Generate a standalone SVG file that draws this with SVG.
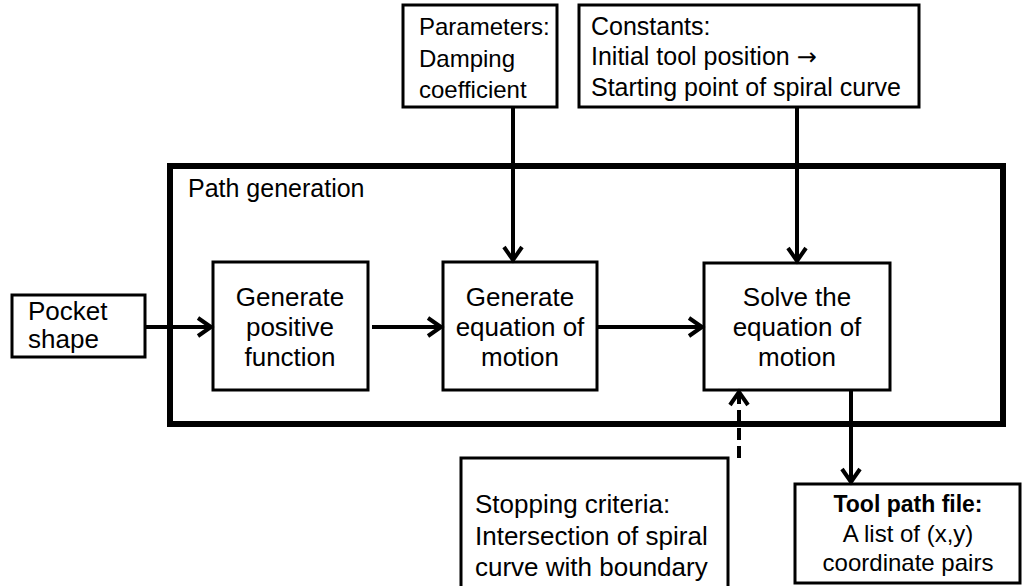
<svg xmlns="http://www.w3.org/2000/svg" width="1026" height="586" viewBox="0 0 1026 586">
<style>
text{font-family:"Liberation Sans",Arial,sans-serif;font-size:25px;fill:#000}
.c{text-anchor:middle}
.l{font-size:26px}
.s{font-size:24px}
.b{font-weight:bold;font-size:23px}
.arr{font-family:"DejaVu Sans",sans-serif;font-size:24px}
.box{fill:#fff;stroke:#000;stroke-width:3}
.frame{fill:none;stroke:#000;stroke-width:6}
.conn{fill:none;stroke:#000;stroke-width:4}
.dash{stroke-dasharray:12 6}
</style>
<defs>
<marker id="ah" markerUnits="userSpaceOnUse" markerWidth="24" markerHeight="24" refX="17" refY="12" orient="auto" viewBox="0 0 24 24">
<path d="M4,3 L17,12 L4,21" fill="none" stroke="#000" stroke-width="4"/>
</marker>
</defs>
<rect fill="#fff" width="1026" height="586"/>
<g id="frame">
<rect class="frame" x="170" y="166" width="833" height="258"/>
<text x="188" y="197">Path generation</text>
</g>
<g id="params">
<rect class="box" x="403" y="5" width="154" height="102"/>
<text class="s" x="419" y="35">Parameters:</text>
<text class="s" x="419" y="67">Damping</text>
<text class="s" x="419" y="98">coefficient</text>
</g>
<g id="constants">
<rect class="box" x="579" y="5" width="340" height="102"/>
<text x="591" y="35">Constants:</text>
<text x="591" y="65">Initial tool position <tspan class="arr">→</tspan></text>
<text x="591" y="96">Starting point of spiral curve</text>
</g>
<g id="pocket">
<rect class="box" x="12" y="295" width="133" height="62"/>
<text class="l" x="28" y="320">Pocket</text>
<text class="l" x="28" y="348">shape</text>
</g>
<g id="positive">
<rect class="box" x="213" y="262" width="155" height="128"/>
<text class="c l" x="290" y="306">Generate</text>
<text class="c l" x="290" y="336">positive</text>
<text class="c l" x="290" y="366">function</text>
</g>
<g id="equation">
<rect class="box" x="443" y="262" width="154" height="128"/>
<text class="c l" x="520" y="306">Generate</text>
<text class="c l" x="520" y="336">equation of</text>
<text class="c l" x="520" y="366">motion</text>
</g>
<g id="solve">
<rect class="box" x="704" y="263" width="186" height="127"/>
<text class="c l" x="797" y="306">Solve the</text>
<text class="c l" x="797" y="336">equation of</text>
<text class="c l" x="797" y="366">motion</text>
</g>
<g id="stopping">
<rect class="box" x="461" y="458" width="267" height="140"/>
<text class="l" x="475" y="513">Stopping criteria:</text>
<text class="l" x="475" y="545">Intersection of spiral</text>
<text class="l" x="475" y="576">curve with boundary</text>
</g>
<g id="toolpath">
<rect class="box" x="795" y="484" width="225" height="99"/>
<text class="c b" x="908" y="512">Tool path file:</text>
<text class="c s" x="908" y="542">A list of (x,y)</text>
<text class="c s" x="908" y="571">coordinate pairs</text>
</g>
<g id="connectors">
<path class="conn" d="M145,327 H211" marker-end="url(#ah)"/>
<path class="conn" d="M372,327 H441" marker-end="url(#ah)"/>
<path class="conn" d="M597,327 H702" marker-end="url(#ah)"/>
<path class="conn" d="M513,107 V260" marker-end="url(#ah)"/>
<path class="conn" d="M797,107 V261" marker-end="url(#ah)"/>
<path class="conn" d="M851,390 V482" marker-end="url(#ah)"/>
<path class="conn dash" d="M739,458 V392" marker-end="url(#ah)"/>
</g>
</svg>
